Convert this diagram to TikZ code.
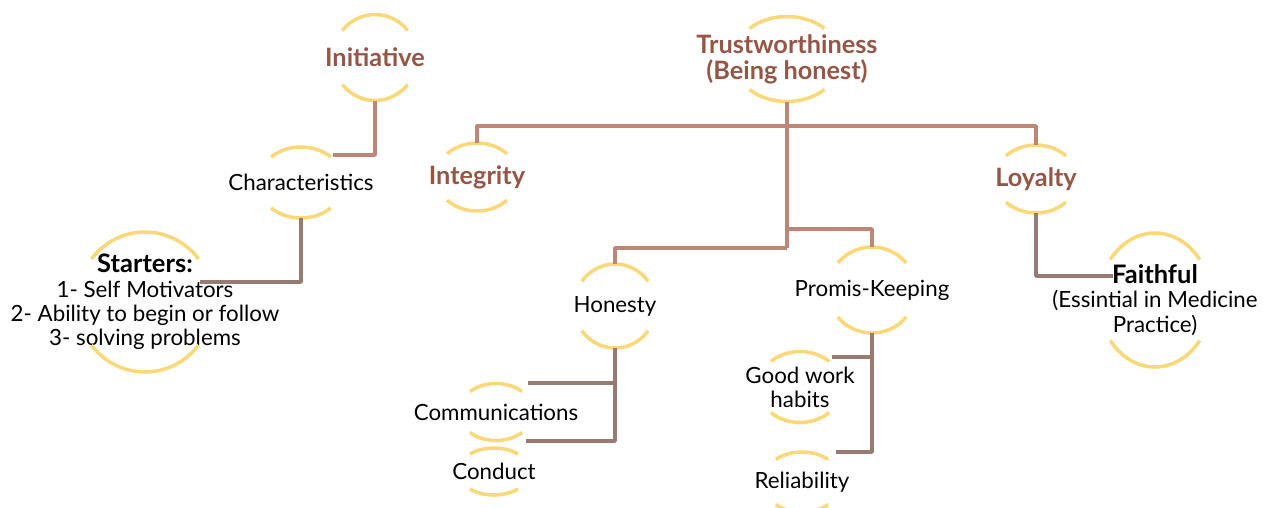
\documentclass[tikz,border=0pt]{standalone}
\usepackage{fontspec}
\setmainfont{Lato}
\definecolor{ttlbrown}{RGB}{150,86,70}
\definecolor{haloyel}{RGB}{250,216,120}
\definecolor{linkhi}{RGB}{190,134,118}
\definecolor{linklo}{RGB}{152,122,112}

% two yellow arcs around a node, plus its top/bottom points
\newcommand\drawhalo[4]{% node, x radius, y radius, angle
  \draw[haloline] (#1.center) ++({180-#4}:#2 and #3) arc[start angle=180-#4, end angle=#4, x radius=#2, y radius=#3];
  \draw[haloline] (#1.center) ++({180+#4}:#2 and #3) arc[start angle=180+#4, end angle=360-#4, x radius=#2, y radius=#3];
  \path (#1.center) ++(0,#3) coordinate (#1-n);
  \path (#1.center) ++(0,-#3) coordinate (#1-s);
}
\newcommand\headword[1]{{\fontsize{14.5}{13.8}\selectfont\bfseries #1}}

\begin{document}
\begin{tikzpicture}[
			x=0.02cm, y=0.02cm,
			lbl/.style={inner sep=0pt, align=center, font=\fontsize{12.7}{13.8}\selectfont},
			ttl/.style={inner sep=0pt, align=center, text=ttlbrown, font=\fontsize{14.4}{14.8}\selectfont\bfseries},
			haloline/.style={haloyel, line width=2pt},
			link1/.style={linkhi, line width=2.1pt, line join=round},
			link2/.style={linklo, line width=2.1pt, line join=round}
			]
			\useasboundingbox (0,0) rectangle (1263,-507);
			
			% level one
			\node[ttl] (init) at (375,-57.5) {Initiative};
			\node[ttl] (trust) at (787,-59) {Trustworthiness\\(Being honest)};
			\node[lbl] (char) at (301,-182.5) {Characteristics};
			\node[ttl] (integ) at (477,-177) {Integrity};
			\node[ttl] (loyal) at (1036,-179) {Loyalty};
			
			% level two
			\node[lbl] (start) at (145,-302) {\headword{Starters:}\\1- Self Motivators\\2- Ability to begin or follow\\3- solving problems};
			\node[lbl] (hon) at (615,-306) {Honesty};
			\node[lbl] (prom) at (872,-290) {Promis-Keeping};
			\node[lbl] (faith) at (1155,-300) {\headword{Faithful}\\(Essintial in Medicine\\Practice)};
			\node[lbl] (good) at (800,-387) {Good work\\habits};
			\node[lbl] (rel) at (802,-482) {Reliability};
			\node[lbl] (comm) at (496,-412) {Communications};
			\node[lbl] (cond) at (494,-471.5) {Conduct};
			
			\drawhalo{init}{42}{43}{39}
			\drawhalo{trust}{54}{42.5}{46}
			\drawhalo{char}{43}{35.5}{46}
			\drawhalo{integ}{41}{34}{43}
			\drawhalo{loyal}{41}{34}{43}
			\drawhalo{start}{68}{70}{38}
			\drawhalo{hon}{41}{42}{36}
			\drawhalo{prom}{44}{43}{39}
			\drawhalo{faith}{56}{67}{37}
			\drawhalo{good}{42}{35.5}{46}
			\drawhalo{rel}{40}{30}{49}
			\drawhalo{comm}{37.5}{28.5}{46}
			\drawhalo{cond}{36}{23.5}{48}
			
			% connector ends
			\coordinate (bar) at (787,-126);
			\coordinate (split) at (787,-229);
			\coordinate (trunk) at (787,-248);
			\coordinate (char-in) at (333,-155);
			\coordinate (start-in) at (200,-282);
			\coordinate (comm-in) at (528,-383);
			\coordinate (cond-in) at (526,-441);
			\coordinate (good-in) at (832,-357);
			\coordinate (rel-in) at (836,-452);
			\coordinate (faith-in) at (1113,-276);
			
			\draw[link1] (init-s) |- (char-in);
			\draw[link2] (char-s) |- (start-in);
			\draw[link1] (trust-s) -- (trunk);
			\draw[link1] (integ-n) |- (bar) -| (loyal-n);
			\draw[link1] (trunk) -| (hon-n);
			\draw[link1] (split) -| (prom-n);
			\draw[link2] (hon-s) |- (comm-in);
			\draw[link2] (hon-s) |- (cond-in);
			\draw[link2] (prom-s) |- (good-in);
			\draw[link2] (prom-s) |- (rel-in);
			\draw[link2] (loyal-s) |- (faith-in);
		\end{tikzpicture}
\end{document}
